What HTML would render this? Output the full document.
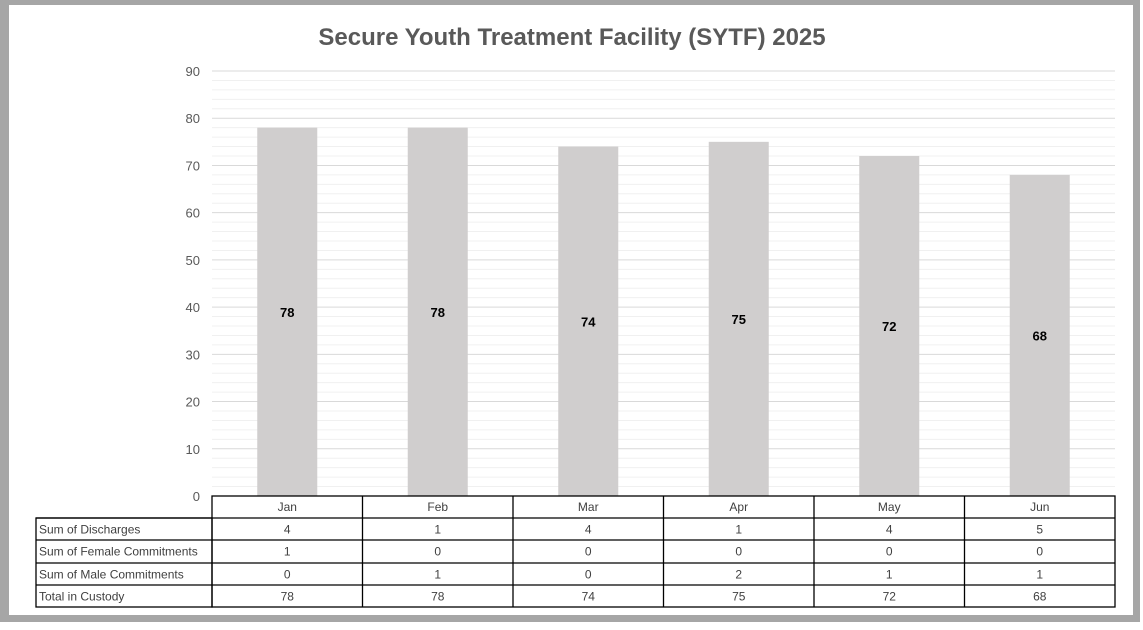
<!DOCTYPE html>
<html><head><meta charset="utf-8"><style>
body{margin:0;width:1143px;height:625px;background:#fff;overflow:hidden;font-family:"Liberation Sans",sans-serif}
#frame{position:absolute;left:0;top:0;width:1143px;height:625px;background:#fff}
</style></head><body>
<div id="frame">
<svg id="svg" width="1143" height="625" xmlns="http://www.w3.org/2000/svg">
<rect x="0" y="0" width="1140" height="622" fill="#a6a6a6"/>
<rect x="9" y="5" width="1124" height="610" fill="#fff"/>
<text x="572" y="45" text-anchor="middle" font-size="24" font-weight="bold" fill="#595959">Secure Youth Treatment Facility (SYTF) 2025</text>
<g id="grid"></g><g id="bars"></g><g id="table"></g>
</svg></div>
<script>
const categories=["Jan","Feb","Mar","Apr","May","Jun"];
const totals=[78,78,74,75,72,68];
const discharges=[4,1,4,1,4,5];
const female=[1,0,0,0,0,0];
const male=[0,1,0,2,1,1];
const yTicks=[0,10,20,30,40,50,60,70,80,90];
const NS="http://www.w3.org/2000/svg";
const x0=212,x1=1115,y0=496,y90=71,yMax=90;
const cw=(x1-x0)/categories.length;
const y=v=>y0-(v/yMax)*(y0-y90);
function mk(tag,attrs,parent,text){const e=document.createElementNS(NS,tag);for(const k in attrs)e.setAttribute(k,attrs[k]);if(text!==undefined)e.textContent=text;parent.appendChild(e);return e;}
const grid=document.getElementById('grid');
for(let v=0;v<=yMax;v+=2){
 const l=mk('line',{x1:x0,x2:x1,y1:y(v),y2:y(v),stroke:v%10==0?'#d9d9d9':'#f0f0f0','stroke-width':1},grid);
 
 
}
yTicks.forEach(v=>{
 const t=mk('text',{x:200,y:y(v)+5,'text-anchor':'end','font-size':13,fill:'#595959'},grid,v);
 
 
});
const bars=document.getElementById('bars');
categories.forEach((c,i)=>{
 const cx=x0+cw*(i+0.5);
 const r=mk('rect',{x:cx-30,y:y(totals[i]),width:60,height:y0-y(totals[i]),fill:'#d0cece'},bars);
 
 
 const t=mk('text',{x:cx,y:(y(totals[i])+y0)/2+5,'text-anchor':'middle','font-size':13,'font-weight':'bold',fill:'#000'},bars,totals[i]);
 
 
});
const tb=document.getElementById('table');
const rowsY=[496,518,540,563,585,607];
const rowLabels=["Sum of Discharges","Sum of Female Commitments","Sum of Male Commitments"," Total in Custody"];
const rowData=[discharges,female,male,totals];
mk('rect',{x:x0,y:496,width:x1-x0,height:111,fill:'none',stroke:'#000','stroke-width':1.3},tb);
mk('rect',{x:36,y:518,width:x0-36,height:89,fill:'none',stroke:'#000','stroke-width':1.3},tb);
for(let r=1;r<5;r++){const l=mk('line',{x1:36,x2:x1,y1:rowsY[r],y2:rowsY[r],stroke:'#000','stroke-width':1.3},tb);}
for(let i=1;i<categories.length;i++){mk('line',{x1:x0+cw*i,x2:x0+cw*i,y1:496,y2:607,stroke:'#000','stroke-width':1.3},tb);}
categories.forEach((c,i)=>{
 const t=mk('text',{x:x0+cw*(i+0.5),y:511,'text-anchor':'middle','font-size':12,fill:'#404040'},tb,c);
 
 
});
rowLabels.forEach((lab,r)=>{
 const ty=rowsY[r+1]+15.5;
 const t=mk('text',{x:39,y:ty,'font-size':12,fill:'#404040','xml:space':'preserve'},tb,lab);
 
 
 rowData[r].forEach((v,i)=>{
  const c=mk('text',{x:x0+cw*(i+0.5),y:ty,'text-anchor':'middle','font-size':12,fill:'#404040'},tb,v);
  
  
 });
});
</script>
</body></html>
